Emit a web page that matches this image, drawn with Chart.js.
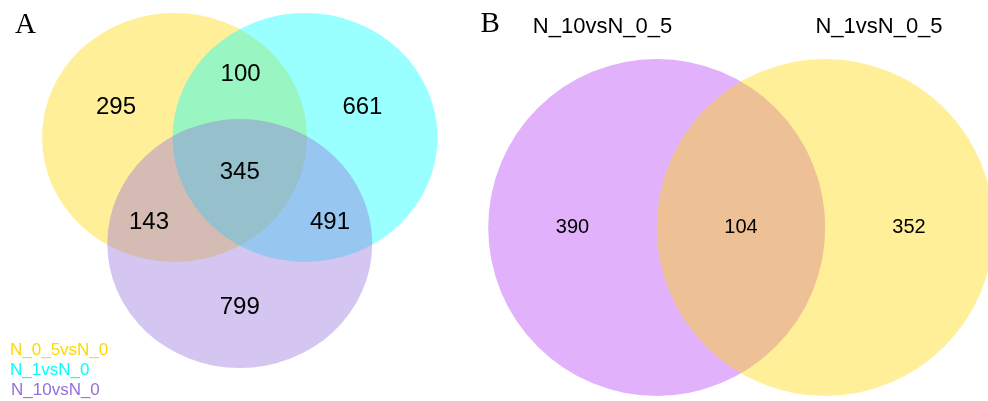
<!DOCTYPE html>
<html>
<head>
<meta charset="utf-8">
<script src="https://cdn.jsdelivr.net/npm/chart.js@4.4.1/dist/chart.umd.min.js"></script>
<style>
  html, body { margin: 0; padding: 0; background: #ffffff; }
  #wrap { position: relative; width: 988px; height: 401px; overflow: hidden; }
  canvas { position: absolute; top: 0; }
  #vennA { left: 0; }
  #vennB { left: 470px; }
</style>
</head>
<body>
<div id="wrap">
  <canvas id="vennA" width="470" height="401"></canvas>
  <canvas id="vennB" width="518" height="401"></canvas>
</div>
<script>
// ---- Panel A: three-set comparison ----
const setNamesA = ['N_0_5vsN_0', 'N_1vsN_0', 'N_10vsN_0'];
const setColorsA = ['#FFD700', '#00FFFF', '#9370DB'];
// region order: only A0, A0∩A1, only A1, all three, A0∩A2, A1∩A2, only A2
const regionKeysA = ['100', '110', '010', '111', '101', '011', '001'];
const regionCountsA = [295, 100, 661, 345, 143, 491, 799];

// ---- Panel B: two-set comparison ----
const setNamesB = ['N_10vsN_0_5', 'N_1vsN_0_5'];
const setColorsB = ['#B43CF5', '#FFD700'];
const regionKeysB = ['10', '11', '01'];
const regionCountsB = [390, 104, 352];

// Layout (in circle-radius units)
const LAYOUT_A = {
  side: 0.985,            // distance between circle centres
  labelPos: {
    '100': [-0.934, 0.528], '110': [0.006, 0.794], '010': [0.926, 0.528],
    '111': [0, 0], '101': [-0.685, -0.399], '011': [0.681, -0.399], '001': [0, -1.082]
  },
  x: [-1.81, 1.738], y: [-1.833, 1.388]
};
const LAYOUT_B = {
  side: 1.0,
  labelPos: { '10': [-1.0, 0], '11': [0, 0], '01': [0.997, 0] },
  x: [-1.608, 1.466], y: [-1.030, 1.350]
};

function withAlpha(hex, a) {
  const n = parseInt(hex.slice(1), 16);
  return `rgba(${(n >> 16) & 255},${(n >> 8) & 255},${n & 255},${a})`;
}

// Circle centres of a symmetric Venn layout
function centres3(side) {
  const h = side * Math.sqrt(3) / 2;
  return [
    { x: -side / 2, y: h / 3, r: 1 },
    { x: side / 2, y: h / 3, r: 1 },
    { x: 0, y: -2 * h / 3, r: 1 }
  ];
}
function centres2(side) {
  return [{ x: -side / 2, y: 0, r: 1 }, { x: side / 2, y: 0, r: 1 }];
}

// Draws each dataset point as a filled ellipse whose radii come from the axes
const vennSets = {
  id: 'vennSets',
  beforeDatasetsDraw(chart) {
    const { ctx, scales: { x, y } } = chart;
    chart.data.datasets.forEach((ds, i) => {
      const meta = chart.getDatasetMeta(i);
      meta.data.forEach((el, j) => {
        const d = ds.data[j];
        const rx = Math.abs(x.getPixelForValue(d.x + d.r) - x.getPixelForValue(d.x));
        const ry = Math.abs(y.getPixelForValue(d.y + d.r) - y.getPixelForValue(d.y));
        ctx.save();
        ctx.beginPath();
        ctx.ellipse(el.x, el.y, rx, ry, 0, 0, Math.PI * 2);
        ctx.fillStyle = ds.backgroundColor;
        ctx.fill();
        ctx.restore();
      });
    });
  }
};

// Region counts and panel text
const vennText = {
  id: 'vennText',
  afterDatasetsDraw(chart, args, opts) {
    const { ctx, scales: { x, y } } = chart;
    ctx.save();
    ctx.fillStyle = '#000000';
    ctx.textAlign = 'center';
    ctx.textBaseline = 'middle';
    ctx.font = opts.countFont;
    opts.keys.forEach((k, i) => {
      const p = opts.labelPos[k];
      ctx.fillText(String(opts.counts[i]), x.getPixelForValue(p[0]), y.getPixelForValue(p[1]));
    });
    (opts.texts || []).forEach(t => {
      ctx.font = t.font;
      ctx.fillStyle = t.color;
      ctx.textAlign = t.align;
      ctx.textBaseline = 'alphabetic';
      ctx.fillText(t.text, t.x, t.y);
    });
    ctx.restore();
  }
};

function baseOptions(layout, textOpts) {
  return {
    responsive: false,
    animation: false,
    devicePixelRatio: 1,
    layout: { padding: 0 },
    events: [],
    elements: { point: { radius: 0, hoverRadius: 0 } },
    scales: {
      x: { type: 'linear', display: false, min: layout.x[0], max: layout.x[1] },
      y: { type: 'linear', display: false, min: layout.y[0], max: layout.y[1] }
    },
    plugins: {
      legend: { display: false },
      tooltip: { enabled: false },
      vennText: textOpts
    }
  };
}

const circlesA = centres3(LAYOUT_A.side);
new Chart(document.getElementById('vennA'), {
  type: 'scatter',
  data: {
    datasets: setNamesA.map((name, i) => ({
      label: name,
      data: [circlesA[i]],
      backgroundColor: withAlpha(setColorsA[i], 0.4)
    }))
  },
  options: baseOptions(LAYOUT_A, {
    keys: regionKeysA,
    counts: regionCountsA,
    labelPos: LAYOUT_A.labelPos,
    countFont: '24px "Liberation Sans", Arial, sans-serif',
    texts: [
      { text: 'A', x: 15, y: 33, font: '29px "Liberation Serif", "Times New Roman", serif', color: '#000000', align: 'left' },
      { text: setNamesA[0], x: 10, y: 355, font: '17px "Liberation Sans", Arial, sans-serif', color: setColorsA[0], align: 'left' },
      { text: setNamesA[1], x: 10, y: 375, font: '17px "Liberation Sans", Arial, sans-serif', color: setColorsA[1], align: 'left' },
      { text: setNamesA[2], x: 11, y: 395, font: '17px "Liberation Sans", Arial, sans-serif', color: setColorsA[2], align: 'left' }
    ]
  }),
  plugins: [vennSets, vennText]
});

const circlesB = centres2(LAYOUT_B.side);
new Chart(document.getElementById('vennB'), {
  type: 'scatter',
  data: {
    datasets: setNamesB.map((name, i) => ({
      label: name,
      data: [circlesB[i]],
      backgroundColor: withAlpha(setColorsB[i], 0.4)
    }))
  },
  options: baseOptions(LAYOUT_B, {
    keys: regionKeysB,
    counts: regionCountsB,
    labelPos: LAYOUT_B.labelPos,
    countFont: '20px "Liberation Sans", Arial, sans-serif',
    texts: [
      { text: 'B', x: 10.5, y: 32, font: '29px "Liberation Serif", "Times New Roman", serif', color: '#000000', align: 'left' },
      { text: setNamesB[0], x: 132.5, y: 33, font: '22px "Liberation Sans", Arial, sans-serif', color: '#000000', align: 'center' },
      { text: setNamesB[1], x: 409, y: 33, font: '22px "Liberation Sans", Arial, sans-serif', color: '#000000', align: 'center' }
    ]
  }),
  plugins: [vennSets, vennText]
});
</script>
</body>
</html>
